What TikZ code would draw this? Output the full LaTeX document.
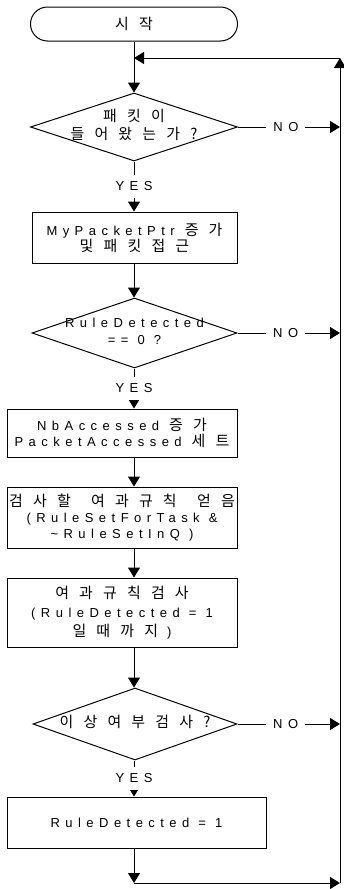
\documentclass[tikz,border=0pt]{standalone}
\usepackage{fontspec}
\setmainfont{Liberation Sans}[LetterSpace=42]
\newfontfamily\kr{Noto Sans CJK KR}[LetterSpace=30,Scale=1.15,WordSpace=1.3]
\usetikzlibrary{shapes.geometric,arrows.meta}

% Styles for the flow chart
\tikzset{
  flowline/.style={line width=1pt},
  arr/.style={flowline,-{Triangle[length=10pt,width=12pt]}},
  terminal/.style={draw,line width=1pt,rounded corners=17pt,minimum width=207pt,minimum height=34pt,font=\fontsize{13}{16}\selectfont},
  process/.style={draw,line width=1pt,align=center,inner sep=0pt,font=\fontsize{13}{16}\selectfont},
  decision/.style={draw,line width=1pt,diamond,inner sep=0pt,font=\fontsize{13}{17}\selectfont},
  branch/.style={fill=white,inner xsep=7pt,inner ysep=7pt,font=\fontsize{13}{14}\selectfont}
}

% Text in a diamond that may run over its outline
\newcommand{\dlabel}[1]{\raisebox{-3pt}[0pt][0pt]{\makebox[0pt]{\begin{tabular}{@{}c@{}}#1\end{tabular}}}}

\begin{document}
\begin{tikzpicture}[x=1pt,y=-1pt]
\useasboundingbox (0,0) rectangle (343,889);

% Main column and the return line on the right
\coordinate (col) at (134,0);     % main column
\coordinate (top) at (340,58);    % top of return line
\coordinate (bot) at (340,883);   % bottom of return line
\coordinate (join) at (134,58);   % return joins main column
\coordinate (end) at (134,883);   % end of main column

% Start
\node[terminal] (start) at (134,24) {\kr 시 작};

% Packet arrived?
\node[decision,minimum width=207pt,minimum height=68pt] (pkt) at (134,127)
  {\dlabel{\kr 패 킷 이\\\kr 들 어 왔 는 가 ?}};

% Pointer step
\node[process,minimum width=205pt,minimum height=51pt] (ptr) at (134.5,237.5)
  {MyPacketPtr\hspace{10pt}{\kr 증 가}\\{\kr 및 패 킷 접 근}};

% RuleDetected == 0 ?
\node[decision,minimum width=205pt,minimum height=70pt] (rule) at (134.5,333)
  {\dlabel{RuleDetected\\== 0 ?}};

% Counters
\node[process,minimum width=230pt,minimum height=48pt] (acc) at (122,433)
  {NbAccessed\hspace{10pt}{\kr 증 가}\\PacketAccessed\hspace{10pt}{\kr 세 트}};

% Rules for the task
\node[process,minimum width=230pt,minimum height=61pt] (task) at (122,517.5)
  {{\kr 검 사 할\ \ 여 과 규 칙\ \ 얻 음}\\(RuleSetForTask \&\\\textasciitilde RuleSetInQ )};

% Rule check
\node[process,minimum width=230pt,minimum height=69pt,font=\fontsize{13}{19}\selectfont] (check) at (122,612.5)
  {{\kr 여 과\ 규 칙\ 검 사}\\(RuleDetected = 1\\{\kr 일 때 까 지} )};

% Abnormal?
\node[decision,minimum width=204pt,minimum height=72pt] (abn) at (135,724)
  {\dlabel{\kr 이 상 여 부\ 검 사 ?}};

% Set flag
\node[process,minimum width=259pt,minimum height=51pt] (set) at (136.5,822.5)
  {RuleDetected = 1};

% Main column arrows
\draw[arr] (start) -- (pkt);
\draw[arr] (pkt.south) -- node[branch]{YES} (pkt.south |- ptr.north);
\draw[arr] (ptr.south -| col) -- (rule.north -| col);
\draw[arr] (rule.south -| col) -- node[branch]{YES} (acc.north -| col);
\draw[arr] (acc.south -| col) -- (task.north -| col);
\draw[arr] (task.south -| col) -- (check.north -| col);
\draw[arr] (check.south -| col) -- (abn.north -| col);
\draw[arr] (abn.south -| col) -- node[branch]{YES} (set.north -| col);
\draw[arr] (set.south -| col) -- (end);

% NO branches to the return line
\draw[arr] (pkt.east) -- node[branch,pos=0.47]{NO} (pkt.east -| top);
\draw[arr] (rule.east) -- node[branch,pos=0.47]{NO} (rule.east -| top);
\draw[arr] (abn.east) -- node[branch,pos=0.47]{NO} (abn.east -| top);

% Return line
\draw[arr] (end) -- (bot);
\draw[arr] (bot) -- (top);
\draw[arr] (top) -- (join);

\end{tikzpicture}
\end{document}
